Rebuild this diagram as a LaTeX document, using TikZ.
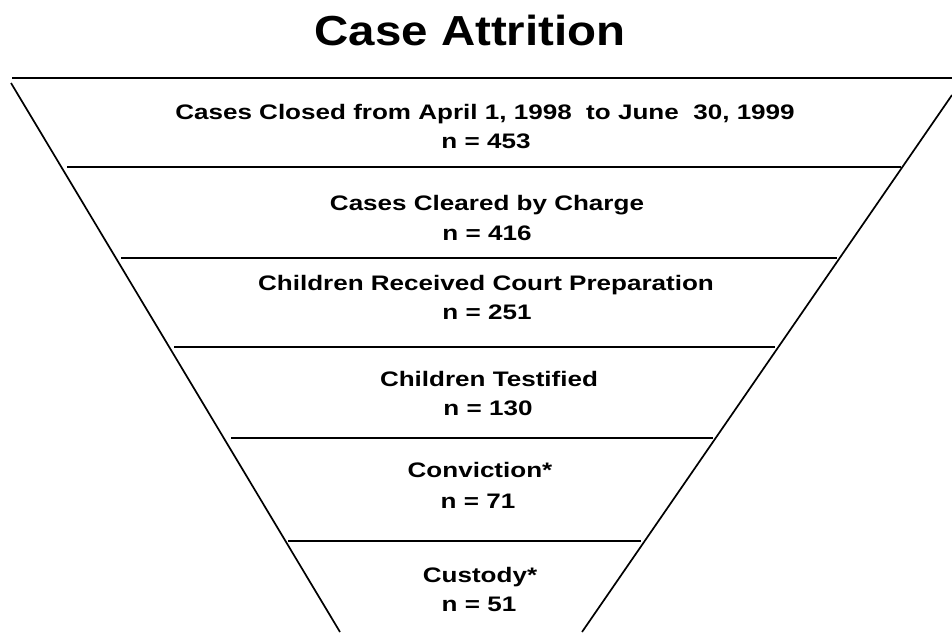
\documentclass[tikz,border=0pt]{standalone}
\usepackage{fontspec}
\setmainfont{Liberation Sans}
\begin{document}
\begin{tikzpicture}[x=1pt,y=-1pt,
  tier/.style={line width=2.8pt},
  side/.style={line width=1.7pt},
  headline/.style={inner sep=0pt,anchor=base,font=\fontsize{42}{48}\selectfont\bfseries},
  band/.style={inner sep=0pt,anchor=base,font=\fontsize{21}{25}\selectfont\bfseries}]
\newcommand\widen[2][1.24]{\scalebox{#1}[1]{#2}}
\useasboundingbox (0,0) rectangle (952,632);

% title
\node[headline] (title) at (470,45) {\widen[1.13]{Case Attrition}};

% funnel sides
\coordinate (lt) at (11,83);
\coordinate (lb) at (340,632);
\coordinate (rt) at (952,95);
\coordinate (rb) at (582,632);
\draw[side] (lt) -- (lb);
\draw[side] (rt) -- (rb);

% tier dividers
\coordinate (t1a) at (12,78);  \coordinate (t1b) at (952,78);
\coordinate (t2a) at (67,167); \coordinate (t2b) at (901,167);
\coordinate (t3a) at (121,258); \coordinate (t3b) at (837,258);
\coordinate (t4a) at (174,347); \coordinate (t4b) at (775,347);
\coordinate (t5a) at (231,438); \coordinate (t5b) at (713,438);
\coordinate (t6a) at (288,541); \coordinate (t6b) at (641,541);
\foreach \i in {1,...,6} \draw[tier] (t\i a) -- (t\i b);

% tier labels
\node[band] (l1) at (485,119) {\widen{Cases Closed from April 1, 1998~~to June~~30, 1999}};
\node[band] (n1) at (486,148) {\widen{n = 453}};
\node[band] (l2) at (487,210) {\widen{Cases Cleared by Charge}};
\node[band] (n2) at (487,240) {\widen{n = 416}};
\node[band] (l3) at (486,290) {\widen{Children Received Court Preparation}};
\node[band] (n3) at (487,319) {\widen{n = 251}};
\node[band] (l4) at (489,386) {\widen{Children Testified}};
\node[band] (n4) at (488,415) {\widen{n = 130}};
\node[band] (l5) at (480,477) {\widen{Conviction*}};
\node[band] (n5) at (478,508) {\widen{n = 71}};
\node[band] (l6) at (480,582) {\widen{Custody*}};
\node[band] (n6) at (479,611) {\widen{n = 51}};
\end{tikzpicture}
\end{document}
